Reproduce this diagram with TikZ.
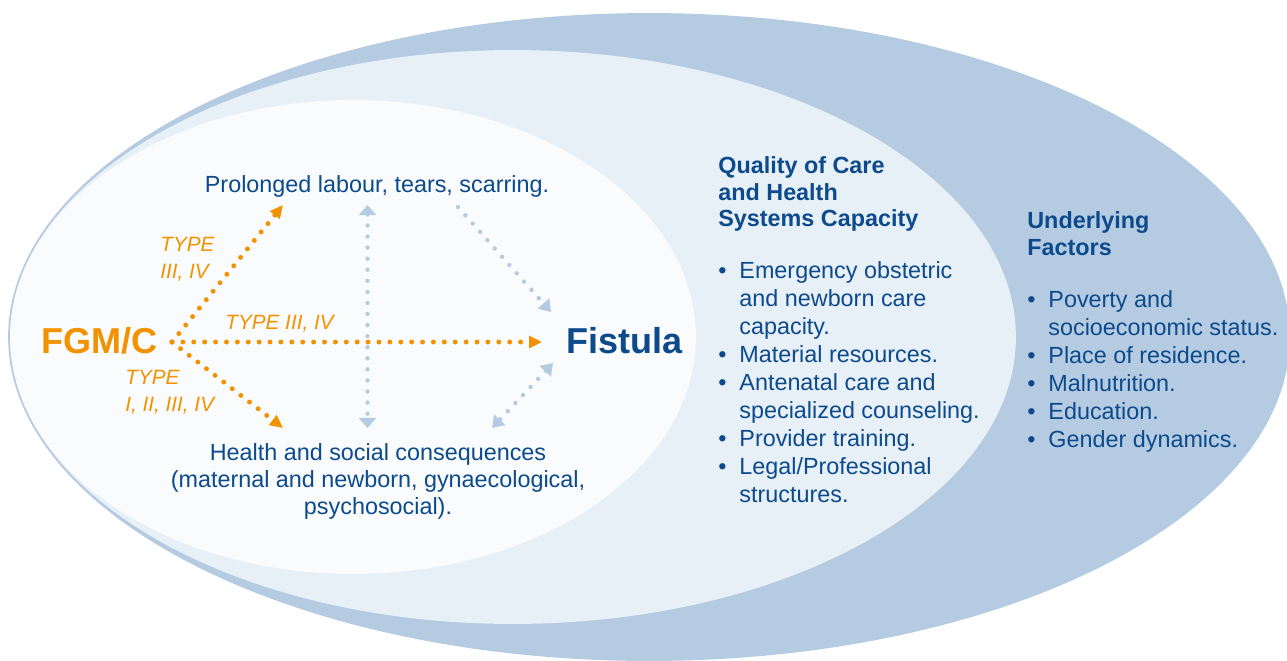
\documentclass[tikz,border=0pt]{standalone}
\usepackage{fontspec}
\setmainfont{Liberation Sans}
\usepackage{tikz}
\usetikzlibrary{arrows.meta}

\definecolor{ringdark}{RGB}{181,203,225}
\definecolor{ringmid}{RGB}{231,239,247}
\definecolor{ringin}{RGB}{249,251,253}
\definecolor{txtblue}{RGB}{12,74,140}
\definecolor{fgmorange}{RGB}{243,146,0}

\newcommand{\bitem}{\makebox[12pt][l]{\textbullet}}
\newcommand{\bcont}{\hspace*{12pt}}

\tikzset{
    body/.style={text=txtblue, inner sep=0pt, font=\fontsize{13.3}{15.2}\selectfont},
    listtext/.style={body, align=left, font=\fontsize{13.3}{15.96}\selectfont},
    headtext/.style={body, align=left, font=\fontsize{13.3}{15.1}\selectfont\bfseries},
    bigtext/.style={inner sep=0pt, font=\fontsize{20.5}{24}\selectfont\bfseries},
    typelbl/.style={text=fgmorange, inner sep=0pt, align=left, font=\fontsize{11.8}{15.2}\selectfont\itshape},
    orangedots/.style={fgmorange, line width=2.8pt, line cap=round, dash pattern=on 0pt off 6.2pt, -{Triangle[length=7.4pt,width=6.8pt]}},
    bluedots/.style={ringdark, line width=2.5pt, line cap=round, dash pattern=on 0pt off 6.3pt}
}

\begin{document}
\begin{tikzpicture}[x=0.02cm, y=-0.02cm]
    \useasboundingbox (0,0) rectangle (1287,660);
    \clip (0,0) rectangle (1287,660);

    % nested rings
    \fill [ringdark] (649,337) ellipse [x radius=12.82cm, y radius=6.48cm];
    \fill [ringmid] (513,337) ellipse [x radius=10.06cm, y radius=5.74cm];
    \fill [ringin] (353,337) ellipse [x radius=6.86cm, y radius=4.74cm];

    % texts (base = last line)
    \node [bigtext, text=fgmorange, anchor=base west] (fgm) at (41,353) {FGM/C};
    \node [bigtext, text=txtblue, anchor=base west] (fistula) at (566,353) {Fistula};
    \node [body, anchor=base] (labour) at (377,192.3) {Prolonged labour, tears, scarring.};
    \node [body, align=center, anchor=base] (health) at (378,514) {Health and social consequences\\(maternal and newborn, gynaecological,\\psychosocial).};

    \node [typelbl, anchor=base west] (typeup) at (160,278.3) {TYPE\\III, IV};
    \node [typelbl, anchor=base west] (typemid) at (225,329) {TYPE III, IV};
    \node [typelbl, anchor=base west] (typelow) at (125,411) {TYPE\\I, II, III, IV};

    \node [headtext, anchor=base west] (qochead) at (718,226.6) {Quality of Care\\and Health\\Systems Capacity};
    \node [listtext, anchor=base west] (qoclist) at (718,502.7) {\bitem Emergency obstetric\\\bcont and newborn care\\\bcont capacity.\\\bitem Material resources.\\\bitem Antenatal care and\\\bcont specialized counseling.\\\bitem Provider training.\\\bitem Legal/Professional\\\bcont structures.};

    \node [headtext, anchor=base west] (ufhead) at (1027,255) {Underlying\\Factors};
    \node [listtext, anchor=base west] (uflist) at (1027,447.3) {\bitem Poverty and\\\bcont socioeconomic status.\\\bitem Place of residence.\\\bitem Malnutrition.\\\bitem Education.\\\bitem Gender dynamics.};

    % arrow ends
    \coordinate (src) at (172,342);
    \coordinate (upend) at (283,205);
    \coordinate (midend) at (542,342);
    \coordinate (lowend) at (283,428);
    \coordinate (vtop) at (367.5,205);
    \coordinate (vbot) at (367.5,428);
    \coordinate (dgstart) at (458,207);
    \coordinate (dgend) at (551,312);
    \coordinate (lgtop) at (553,363);
    \coordinate (lgbot) at (492,428);

    % light blue links
    \draw [bluedots, {Triangle[length=5.7pt,width=9.7pt]}-{Triangle[length=5.7pt,width=9.7pt]}] (vtop) -- (vbot);
    \draw [bluedots, -{Triangle[length=6.5pt,width=8.5pt]}] (dgstart) -- (dgend);
    \draw [bluedots, {Triangle[length=6.5pt,width=8.5pt]}-{Triangle[length=6.5pt,width=8.5pt]}] (lgtop) -- (lgbot);

    % FGM/C links
    \draw [orangedots] (src) -- (upend);
    \draw [orangedots] (src) -- (midend);
    \draw [orangedots] (src) -- (lowend);
\end{tikzpicture}
\end{document}
